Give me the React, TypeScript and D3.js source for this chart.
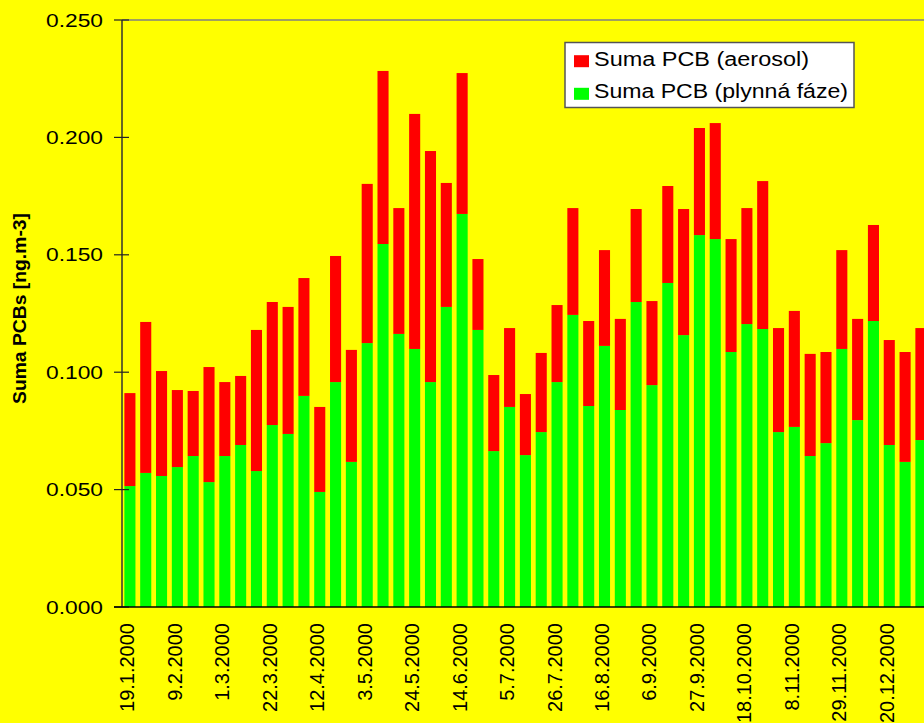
import {useEffect, useRef} from "react";
import * as d3 from "d3";

// tydenni odbery 2000
const dates = [
    "19.1.2000", "26.1.2000", "2.2.2000", "9.2.2000", "16.2.2000", "23.2.2000",
    "1.3.2000", "8.3.2000", "15.3.2000", "22.3.2000", "29.3.2000", "5.4.2000",
    "12.4.2000", "19.4.2000", "26.4.2000", "3.5.2000", "10.5.2000", "17.5.2000",
    "24.5.2000", "31.5.2000", "7.6.2000", "14.6.2000", "21.6.2000", "28.6.2000",
    "5.7.2000", "12.7.2000", "19.7.2000", "26.7.2000", "2.8.2000", "9.8.2000",
    "16.8.2000", "23.8.2000", "30.8.2000", "6.9.2000", "13.9.2000", "20.9.2000",
    "27.9.2000", "4.10.2000", "11.10.2000", "18.10.2000", "25.10.2000", "1.11.2000",
    "8.11.2000", "15.11.2000", "22.11.2000", "29.11.2000", "6.12.2000", "13.12.2000",
    "20.12.2000", "27.12.2000", "3.1.2001"
];

// Suma PCB (plynna faze)
const plynna = [
    0.0515, 0.0571, 0.0558, 0.0596, 0.0643, 0.0532, 0.0643, 0.0690, 0.0579, 0.0775,
    0.0737, 0.0899, 0.0490, 0.0958, 0.0618, 0.1124, 0.1546, 0.1163, 0.1099, 0.0958,
    0.1278, 0.1674, 0.1180, 0.0664, 0.0852, 0.0647, 0.0745, 0.0958, 0.1244, 0.0856,
    0.1112, 0.0839, 0.1299, 0.0945, 0.1380, 0.1158, 0.1584, 0.1567, 0.1086, 0.1205,
    0.1184, 0.0745, 0.0767, 0.0643, 0.0698, 0.1099, 0.0796, 0.1218, 0.0690, 0.0618,
    0.0711
];

// Suma PCB (aerosol)
const aerosol = [
    0.0396, 0.0643, 0.0447, 0.0328, 0.0277, 0.0490, 0.0315, 0.0294, 0.0601, 0.0524,
    0.0541, 0.0502, 0.0362, 0.0537, 0.0477, 0.0678, 0.0737, 0.0536, 0.1001, 0.0984,
    0.0528, 0.0600, 0.0302, 0.0324, 0.0336, 0.0260, 0.0337, 0.0328, 0.0455, 0.0362,
    0.0408, 0.0388, 0.0396, 0.0358, 0.0413, 0.0537, 0.0456, 0.0494, 0.0481, 0.0494,
    0.0630, 0.0443, 0.0494, 0.0435, 0.0388, 0.0421, 0.0431, 0.0409, 0.0447, 0.0468,
    0.0477
];

const yTicks = [0, 0.05, 0.1, 0.15, 0.2, 0.25];

const Chart = () => {
    const ref = useRef(null);

    useEffect(() => {
        const svg = d3.select(ref.current);
        svg.selectAll("*").remove();

        const W = 924, H = 723;
        const left = 122, top = 20, bottom = 607;
        const step = 15.82;

        svg.append("rect").attr("width", W).attr("height", H).attr("fill", "#ffff00");

        const x = d3.scaleBand()
            .domain(dates)
            .range([left, left + dates.length * step])
            .paddingInner(0.3)
            .paddingOuter(0.15);
        const y = d3.scaleLinear().domain([0, 0.25]).range([bottom, top]);

        const rows = dates.map((d, i) => ({date: d, plynna: plynna[i], aerosol: aerosol[i]}));
        const series = d3.stack().keys(["plynna", "aerosol"])(rows);
        const colors = {plynna: "#00ff00", aerosol: "#ff0000"};

        // top border of plot area
        svg.append("line")
            .attr("x1", left).attr("x2", W)
            .attr("y1", top).attr("y2", top)
            .attr("stroke", "#808080").attr("stroke-width", 1.5);

        series.forEach(s => {
            svg.append("g")
                .attr("fill", colors[s.key])
                .selectAll("rect")
                .data(s)
                .join("rect")
                .attr("x", d => x(d.data.date))
                .attr("width", x.bandwidth())
                .attr("y", d => y(d[1]))
                .attr("height", d => y(d[0]) - y(d[1]));
        });

        // y axis
        svg.append("line")
            .attr("x1", left).attr("x2", left)
            .attr("y1", top).attr("y2", bottom)
            .attr("stroke", "#333").attr("stroke-width", 1.5);
        const fmt = d3.format(".3f");
        yTicks.forEach(t => {
            svg.append("line")
                .attr("x1", 114).attr("x2", 129)
                .attr("y1", y(t)).attr("y2", y(t))
                .attr("stroke", "#222").attr("stroke-width", 1.2);
            svg.append("text")
                .attr("x", 103).attr("y", y(t) + 6.5)
                .attr("text-anchor", "end")
                .attr("font-family", "Liberation Sans, Arial, sans-serif")
                .attr("font-size", 18.7)
                .attr("textLength", 57)
                .attr("lengthAdjust", "spacingAndGlyphs")
                .text(fmt(t));
        });

        // x axis
        svg.append("line")
            .attr("x1", 114).attr("x2", W)
            .attr("y1", bottom).attr("y2", bottom)
            .attr("stroke", "#000").attr("stroke-width", 1.5);
        dates.forEach((d, i) => {
            if (i % 3 !== 0) return;
            const cx = x(d) + x.bandwidth() / 2 + 4.5;
            svg.append("text")
                .attr("transform", `translate(${cx},623) rotate(-90)`)
                .attr("text-anchor", "end")
                .attr("font-family", "Liberation Sans, Arial, sans-serif")
                .attr("font-size", 20)
                .text(d);
        });

        svg.append("text")
            .attr("transform", "translate(26,308.5) rotate(-90)")
            .attr("text-anchor", "middle")
            .attr("font-family", "Liberation Sans, Arial, sans-serif")
            .attr("font-weight", "bold")
            .attr("font-size", 18)
            .attr("textLength", 191)
            .attr("lengthAdjust", "spacingAndGlyphs")
            .text("Suma PCBs [ng.m-3]");

        // legend
        const lg = svg.append("g");
        lg.append("rect")
            .attr("x", 565).attr("y", 42.5)
            .attr("width", 289).attr("height", 65)
            .attr("fill", "#fff").attr("stroke", "#555").attr("stroke-width", 1.5);
        const items = [
            {key: "aerosol", label: "Suma PCB (aerosol)", len: 215},
            {key: "plynna", label: "Suma PCB (plynná fáze)", len: 254}
        ];
        items.forEach((it, i) => {
            const by = 65.7 + i * 32.6;
            lg.append("rect")
                .attr("x", 574).attr("y", by - 10.5)
                .attr("width", 15).attr("height", 12)
                .attr("fill", colors[it.key]);
            lg.append("text")
                .attr("x", 594).attr("y", by)
                .attr("font-family", "Liberation Sans, Arial, sans-serif")
                .attr("font-size", 19.5)
                .attr("textLength", it.len)
                .attr("lengthAdjust", "spacingAndGlyphs")
                .text(it.label);
        });
    }, []);

    return <svg ref={ref} width={924} height={723} style={{display: "block"}}></svg>;
};

export default function App() {
    return (
        <div style={{position: "absolute", left: 0, top: 0, width: 924, height: 723, overflow: "hidden"}}>
            <Chart/>
        </div>
    );
}
